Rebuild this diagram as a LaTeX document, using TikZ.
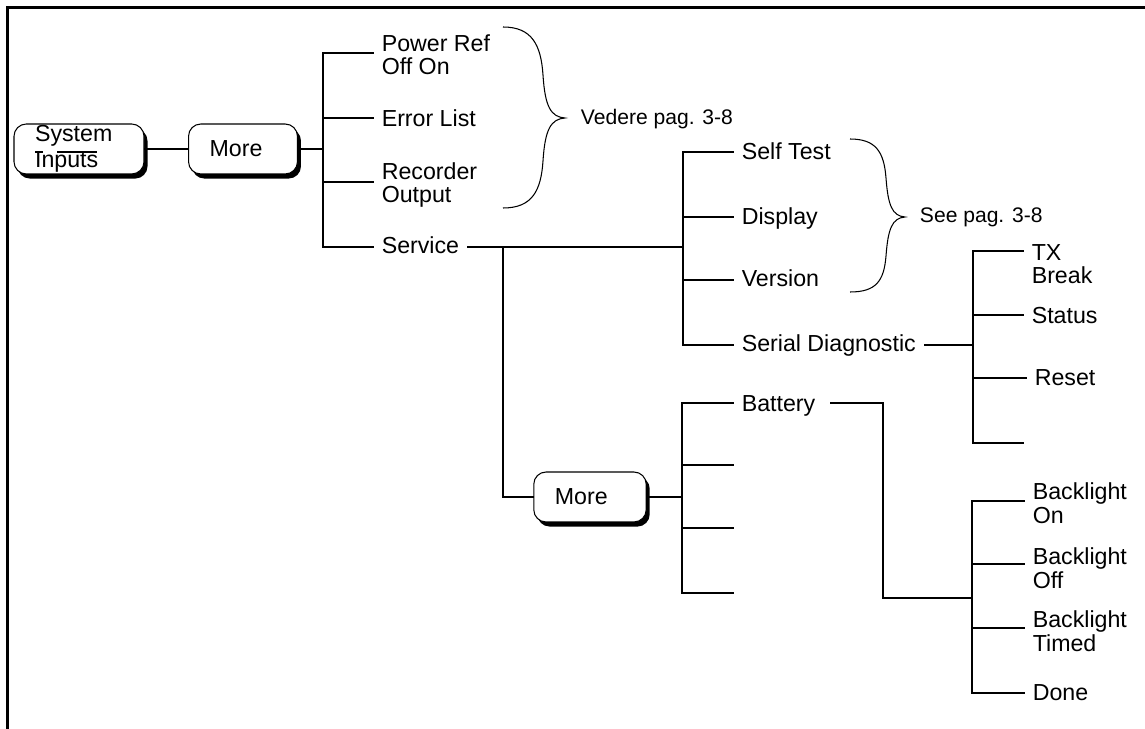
\documentclass[tikz,border=0pt]{standalone}
\usepackage{fontspec}
\setmainfont{Liberation Sans}
\usetikzlibrary{shadows}

\begin{document}
\begin{tikzpicture}[x=0.02cm,y=-0.02cm,line width=1.1pt,line cap=rect,
 key/.style={draw,fill=white,line width=0.6pt,rounded corners=7pt,inner xsep=12pt,inner ysep=0pt,
   align=left,minimum height=1cm,font=\fontsize{13.2}{14.8}\selectfont,
   drop shadow={shadow xshift=2pt,shadow yshift=-2.6pt,fill=black,opacity=1}},
 lbl/.style={anchor=base west,inner sep=0pt,outer sep=5pt,align=left,font=\fontsize{13.2}{13.6}\selectfont},
 note/.style={anchor=base west,inner sep=0pt,font=\fontsize{12}{14}\selectfont},
 brc/.style={line width=0.6pt,line cap=butt}]
\useasboundingbox (0,0) rectangle (1145,729);
\draw[line width=1.5pt] (7.5,729) |- (1145,7.5);

\node[key,text width=50pt] (sys) at (79,149) {System\\Inputs};
\draw[line width=0.9pt,line cap=butt] (35,152) -- (43,152) (57,152) -- (97,152);
\node[key,text width=38pt] (more1) at (243,149) {More};
\node[key,text width=40pt] (more2) at (590,497) {More};
\draw (sys) -- (more1);

\coordinate (a1) at (323,53); \coordinate (a2) at (323,118);
\coordinate (a3) at (323,182); \coordinate (a4) at (323,247);
\node[lbl] (pwr) at (373,75) {Power Ref\\Off On};
\node[lbl] (err) at (373,127) {Error List};
\node[lbl] (rec) at (373,203) {Recorder\\Output};
\node[lbl] (serv) at (373,254) {Service};
\draw (more1) -- (more1 -| a1);
\draw (a1) -- (a4);
\foreach \c/\n in {a1/pwr,a2/err,a3/rec,a4/serv} \draw (\c) -- (\c -| \n.west);

\coordinate (b0) at (683,247); \coordinate (s0) at (503,247);
\coordinate (b1) at (683,152); \coordinate (b2) at (683,217);
\coordinate (b3) at (683,280); \coordinate (b4) at (683,345);
\node[lbl] (st) at (733,160) {Self Test};
\node[lbl] (disp) at (733,225) {Display};
\node[lbl] (ver) at (733,287) {Version};
\node[lbl] (sd) at (733,351) {Serial Diagnostic};
\draw (serv.east |- b0) -- (b0);
\draw (s0) |- (more2);
\draw (b1) -- (b4);
\foreach \c/\n in {b1/st,b2/disp,b3/ver,b4/sd} \draw (\c) -- (\c -| \n.west);

\coordinate (c1) at (682,403); \coordinate (c2) at (682,465);
\coordinate (c3) at (682,528); \coordinate (c4) at (682,593);
\node[lbl] (bat) at (733,411) {Battery};
\draw (more2) -- (more2 -| c1);
\draw (c1) -- (c4);
\foreach \c in {c1,c2,c3,c4} \draw (\c) -- (\c -| bat.west);

\coordinate (bk) at (883,598);
\coordinate (d1) at (972,501); \coordinate (d2) at (972,564);
\coordinate (d3) at (972,628); \coordinate (d4) at (972,693);
\node[lbl] (blon) at (1024,523) {Backlight\\On};
\node[lbl] (bloff) at (1024,588) {Backlight\\Off};
\node[lbl] (bltim) at (1024,651) {Backlight\\Timed};
\node[lbl] (done) at (1024,700) {Done};
\draw (bat.east |- c1) ++(4pt,0) -| (bk) -- (bk -| d1);
\draw (d1) -- (d4);
\foreach \c/\n in {d1/blon,d2/bloff,d3/bltim,d4/done} \draw (\c) -- (\c -| \n.west);

\coordinate (f0) at (973,345);
\coordinate (f1) at (973,251); \coordinate (f2) at (973,315);
\coordinate (f3) at (973,378); \coordinate (f4) at (973,443);
\node[lbl] (txb) at (1023,284) {TX\\Break};
\node[lbl] (stat) at (1023,323) {Status};
\node[lbl] (rst) at (1026,385) {Reset};
\draw (sd.east |- f0) -- (f0);
\draw (f1) -- (f4);
\foreach \c/\n in {f1/txb,f2/stat,f3/rst,f4/txb} \draw (\c) -- (\c -| \n.west);

\draw[brc] (503,27) .. controls (532,27) and (541,45) .. (543,75)
 .. controls (545,107) and (551,117) .. (565,118)
 .. controls (551,119) and (545,129) .. (543,161)
 .. controls (541,191) and (532,208) .. (503,208);
\node[note] (ved) at (580,125) {Vedere pag. 3-8};
\draw[brc] (850,139) .. controls (876,139) and (884,152) .. (886,178)
 .. controls (888,205) and (892,216) .. (905,217)
 .. controls (892,218) and (888,229) .. (886,256)
 .. controls (884,281) and (876,292) .. (850,292);
\node[note] (see) at (919,223) {See pag. 3-8};
\end{tikzpicture}
\end{document}
